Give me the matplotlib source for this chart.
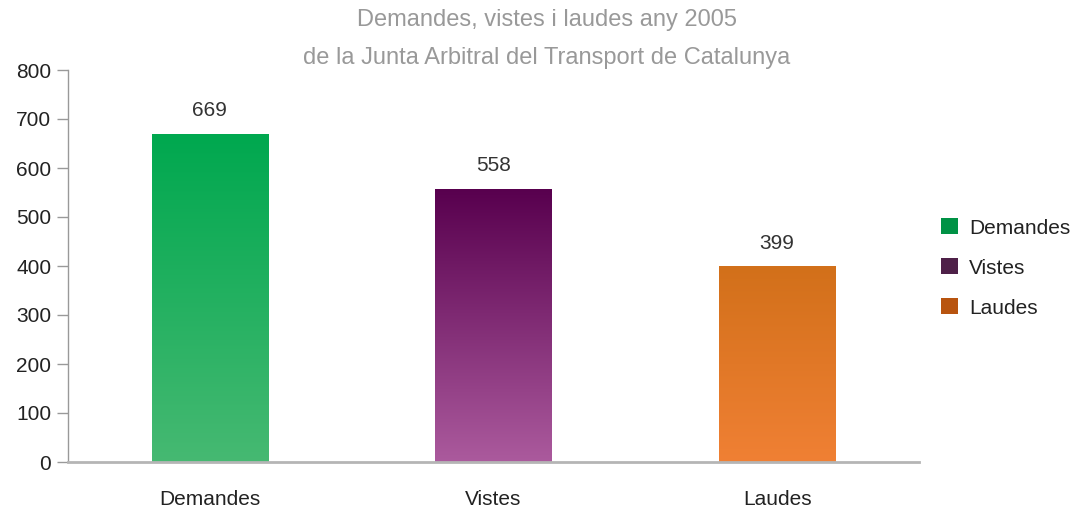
import matplotlib
matplotlib.use("Agg")
import matplotlib.pyplot as plt
import numpy as np
from matplotlib.colors import LinearSegmentedColormap
from matplotlib.patches import Patch

categories = ["Demandes", "Vistes", "Laudes"]
values = [669, 558, 399]
yticks = [0, 100, 200, 300, 400, 500, 600, 700, 800]
title = "Demandes, vistes i laudes any 2005\nde la Junta Arbitral del Transport de Catalunya"

top_colors = ["#00A84F", "#58004E", "#D2701A"]
bottom_colors = ["#46B972", "#AB5A9D", "#F08034"]
legend_colors = ["#009245", "#4E2048", "#B8540F"]

plt.rcParams["font.family"] = ["Liberation Sans", "DejaVu Sans"]

fig = plt.figure(figsize=(10.71, 5.09), dpi=100)
ax = fig.add_axes([68/1071, 1 - 462/509, (919-68)/1071, (462-70)/509])

x = np.arange(len(categories))
bars = ax.bar(x, values, width=0.41, color="none", edgecolor="none")
grad = np.linspace(1, 0, 256).reshape(-1, 1)
for b, v, tc, bc in zip(bars, values, top_colors, bottom_colors):
    cmap = LinearSegmentedColormap.from_list("g", [bc, tc])
    x0, y0 = b.get_x(), b.get_y()
    w, h = b.get_width(), b.get_height()
    im = ax.imshow(grad, extent=[x0, x0 + w, y0, y0 + h], cmap=cmap,
                   aspect="auto", origin="upper", zorder=2, vmin=0, vmax=1)
    im.set_clip_path(b)
    ax.text(x0 + w / 2, y0 + h + 28, f"{v}",
            ha="center", va="bottom", fontsize=15, color="#333333")

ax.set_xlim(-0.5, len(categories) - 0.5)
ax.set_ylim(0, 800)
ax.set_yticks(yticks)
ax.set_xticks(x)
ax.set_xticklabels(categories, fontsize=15, color="#222222")
ax.tick_params(axis="y", labelsize=15, labelcolor="#222222", color="#999999",
               length=8, width=1, pad=4)
ax.tick_params(axis="x", length=0, pad=20)
for s in ["top", "right"]:
    ax.spines[s].set_visible(False)
ax.spines["left"].set_color("#999999")
ax.spines["left"].set_linewidth(1)
ax.spines["bottom"].set_color("#B5B5B5")
ax.spines["bottom"].set_linewidth(2)

fig.text(547/1071, 1 - 39/509, title, ha="center", va="center", fontsize=17,
         color="#999999", linespacing=1.9)

handles = [Patch(facecolor=c, edgecolor="none") for c in legend_colors]
fig.legend(handles, categories, loc="center left",
           bbox_to_anchor=(935/1071, 1 - 268/509), frameon=False,
           fontsize=15, handlelength=0.8, handleheight=0.8,
           labelspacing=1.0, handletextpad=0.55, labelcolor="#222222",
           borderaxespad=0, borderpad=0.3)

fig.savefig("out.png", dpi=100)
